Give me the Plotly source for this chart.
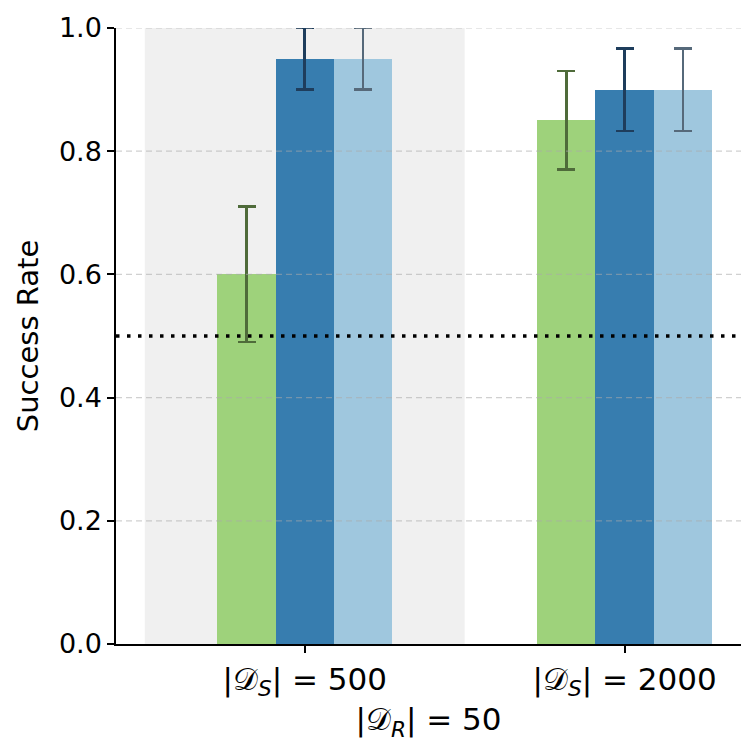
import plotly.graph_objects as go

# --- data ---
groups = ["|𝒟<sub><i>S</i></sub>| = 500", "|𝒟<sub><i>S</i></sub>| = 2000"]
group_pos = [0, 1]
series_names = ["A", "B", "C"]
values = {
    "A": [0.60, 0.85],
    "B": [0.95, 0.90],
    "C": [0.95, 0.90],
}
errors = {
    "A": [0.11, 0.08],
    "B": [0.05, 0.067],
    "C": [0.05, 0.067],
}
chance_level = 0.5
y_ticks = [0.0, 0.2, 0.4, 0.6, 0.8, 1.0]
x_title = "|𝒟<sub><i>R</i></sub>| = 50"
y_title = "Success Rate"

bar_colors = {"A": "#9ed27b", "B": "#377daf", "C": "#9fc7de"}
err_colors = {"A": "#4f6b3a", "B": "#1e3d5c", "C": "#56697a"}
bar_w = 0.182
offsets = [-bar_w, 0, bar_w]

fig = go.Figure()

for s, off in zip(series_names, offsets):
    fig.add_trace(go.Bar(
        x=[g + off for g in group_pos],
        y=values[s],
        width=bar_w,
        marker=dict(color=bar_colors[s], line=dict(width=0)),
        error_y=dict(type="data", array=errors[s], color=err_colors[s],
                     thickness=2.5, width=9),
        cliponaxis=False,
        name=s,
        showlegend=False,
    ))

shapes = [
    # shaded region behind the first group
    dict(type="rect", xref="x", yref="paper", x0=group_pos[0] - 0.5, x1=group_pos[0] + 0.5,
         y0=0, y1=1, fillcolor="#f0f0f0", line=dict(width=0), layer="below"),
]
# dashed grid drawn on top of bars
for t in y_ticks[1:]:
    shapes.append(dict(type="line", xref="paper", yref="y", x0=0, x1=1, y0=t, y1=t,
                       line=dict(color="rgba(170,170,170,0.55)", width=1.2, dash="6px,4px"),
                       layer="above"))
# chance level
shapes.append(dict(type="line", xref="paper", yref="y", x0=0, x1=1, y0=chance_level, y1=chance_level,
                   line=dict(color="black", width=3.5, dash="3.5px,7.5px"), layer="above"))

# page has an 8px body margin, so margins are shifted to compensate
fig.update_layout(
    width=756, height=756,
    margin=dict(l=108, r=23, t=20, b=120),
    plot_bgcolor="white", paper_bgcolor="white",
    font=dict(family="DejaVu Sans", size=27, color="black"),
    bargap=0, barmode="overlay",
    shapes=shapes,
    xaxis=dict(
        range=[-0.59, 1.364],
        tickvals=group_pos, ticktext=groups,
        tickfont=dict(size=31),
        ticks="outside", ticklen=7, tickwidth=1.5, tickcolor="black",
        showline=True, linecolor="black", linewidth=1.5, mirror=False,
        showgrid=False, zeroline=False, automargin=False,
        title=dict(text=x_title, font=dict(size=31), standoff=2),
    ),
    yaxis=dict(
        range=[0, 1],
        tickvals=y_ticks, tickformat=".1f",
        tickfont=dict(size=27),
        ticks="outside", ticklen=7, tickwidth=1.5, tickcolor="black",
        showline=True, linecolor="black", linewidth=1.5, mirror=False,
        showgrid=False, zeroline=False, automargin=False,
        title=dict(text=y_title, font=dict(size=29), standoff=12),
    ),
)

fig.write_html("out.html")
